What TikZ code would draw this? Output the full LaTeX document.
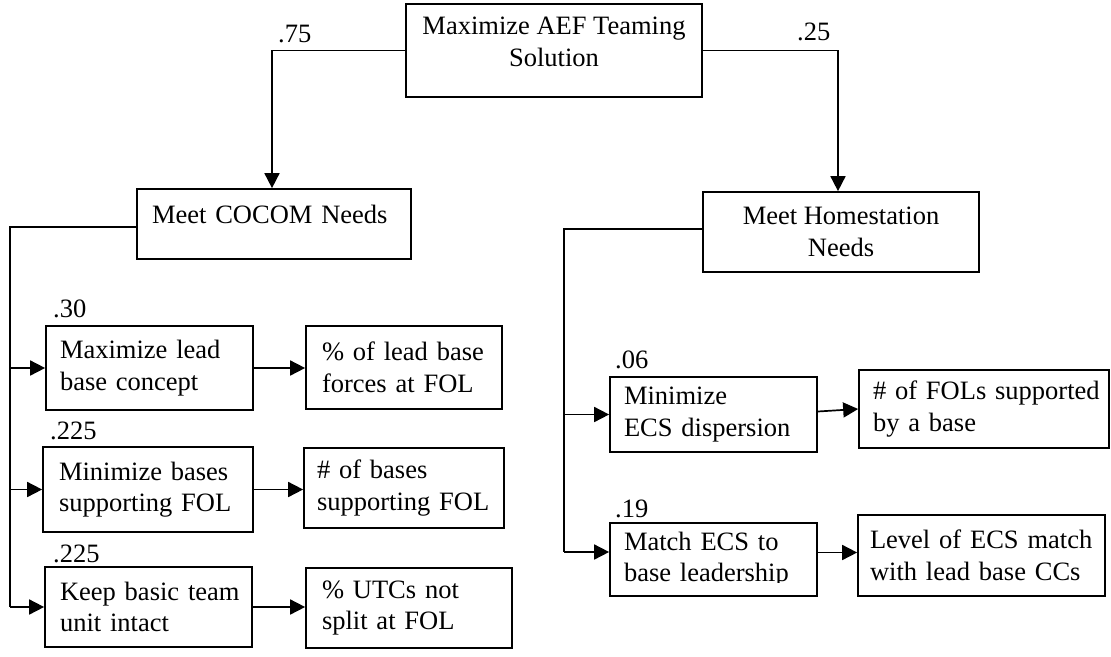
\documentclass[tikz,border=0pt]{standalone}
\usepackage{fontspec}
\setmainfont{Liberation Serif}
\usetikzlibrary{arrows.meta}
\newcommand\nb[1]{\mbox{#1}}
\begin{document}
\begin{tikzpicture}[x=1pt,y=-1pt,
  every node/.style={font=\fontsize{26.5}{31.5}\selectfont},
  box/.style={draw, line width=1.7pt, rectangle, inner ysep=0pt, align=left},
  wt/.style={anchor=base west, inner sep=0pt},
  link/.style={line width=1.7pt},
  arr/.style={link, -{Triangle[length=15pt,width=15pt]}}]
\useasboundingbox (0,0) rectangle (1111,656);

% top level
\node[box, align=center, minimum width=296pt, minimum height=93pt] (top) at (554,50.5)
  {\nb{Maximize AEF Teaming}\\Solution\rule[-18pt]{0pt}{18pt}};
\node[box, inner xsep=15pt, text width=244pt, minimum height=70pt] (cocom) at (274,224)
  {\nb{Meet COCOM Needs}\rule[-20pt]{0pt}{20pt}};
\node[box, align=center, minimum width=276pt, minimum height=80pt] (home) at (841,232)
  {\nb{Meet Homestation}\\Needs};

% COCOM branch
\node[box, inner xsep=14pt, text width=179pt, minimum height=84pt] (a1) at (149.5,368)
  {\nb{Maximize lead}\\\nb{base concept}};
\node[box, inner xsep=16pt, text width=164pt, minimum height=83pt] (a2) at (404,367.5)
  {\nb{\% of lead base}\\\nb{forces at FOL}};
\node[box, inner xsep=16pt, text width=178pt, minimum height=85pt] (b1) at (148,489.5)
  {\nb{Minimize bases}\\\nb{supporting FOL}};
\node[box, inner xsep=13pt, text width=174pt, minimum height=80pt] (b2) at (404,488)
  {\nb{\# of bases}\\\nb{supporting FOL}};
\node[box, inner xsep=15pt, text width=177pt, minimum height=80pt] (c1) at (148.5,607)
  {\nb{Keep basic team}\\\nb{unit intact}};
\node[box, inner xsep=16pt, text width=174pt, minimum height=80pt] (c2) at (409,608)
  {\nb{\% UTCs not}\\\nb{split at FOL}};

% Homestation branch
\node[box, inner xsep=14pt, text width=179pt, minimum height=75pt] (d1) at (713.5,414.5)
  {\nb{Minimize}\\\nb{ECS dispersion}};
\node[box, inner xsep=14pt, text width=222pt, minimum height=78pt] (d2) at (984,409)
  {\nb{\# of FOLs supported}\\\nb{by a base}};
\node[box, inner xsep=14pt, text width=179pt, minimum height=73pt] (e1) at (713.5,559.5)
  {\nb{Match ECS to}\\\nb{base leadership}};
\fill[white] (611.5,582.8) rectangle (815.5,594.5);
\node[box, inner xsep=12pt, text width=223pt, minimum height=81pt] (e2) at (981.5,555.5)
  {\nb{Level of ECS match}\\\nb{with lead base CCs}};

% weights
\node[wt] (w75) at (278,42) {.75};
\node[wt] (w25) at (797,40) {.25};
\node[wt] (w30) at (53,317) {.30};
\node[wt] (w225a) at (50,439) {.225};
\node[wt] (w225b) at (53,562) {.225};
\node[wt] (w06) at (615,368) {.06};
\node[wt] (w19) at (615,517) {.19};

% connectors
\draw[arr] (top.west) -| ([xshift=-2pt]cocom.north);
\draw[arr] (top.east) -| ([xshift=-3pt]home.north);

\coordinate (lbus) at (10,607);
\draw[link] ([yshift=-3pt]cocom.west) -| (lbus);
\draw[arr] (lbus |- a1.west) -- (a1.west);
\draw[arr] (lbus |- b1.west) -- (b1.west);
\draw[arr] (lbus) -- (c1.west);
\draw[arr] (a1.east) -- (a1.east -| a2.west);
\draw[arr] (b1.east) -- (b1.east -| b2.west);
\draw[arr] (c1.east) -- (c1.east -| c2.west);

\coordinate (rbus) at (564,552);
\draw[link] ([yshift=3pt]home.west) -| (rbus);
\draw[arr] (rbus |- d1.west) -- (d1.west);
\draw[arr] (rbus) -- (rbus -| e1.west);
\draw[arr] ([yshift=3pt]d1.east) -- (d2.west);
\draw[arr] ([yshift=7pt]e1.east) -- ([yshift=7pt]e1.east -| e2.west);
\end{tikzpicture}
\end{document}
